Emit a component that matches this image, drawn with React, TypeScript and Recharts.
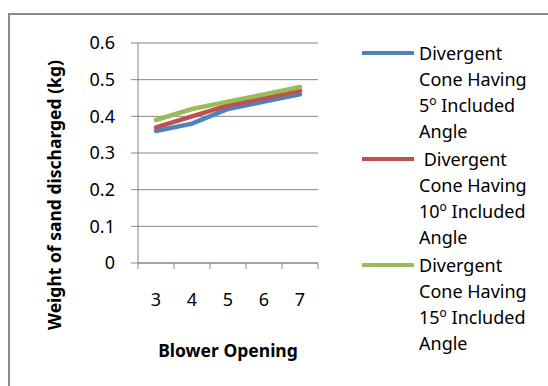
import React from 'react';
import { LineChart, Line, XAxis, YAxis, CartesianGrid, Legend } from 'recharts';

// blower opening setting on the x axis
const openings = [3, 4, 5, 6, 7];
// weight of sand discharged (kg) for each cone
const cone5 = [0.36, 0.38, 0.42, 0.44, 0.46];
const cone10 = [0.37, 0.4, 0.43, 0.45, 0.47];
const cone15 = [0.39, 0.42, 0.44, 0.46, 0.48];
const yTicks = [0, 0.1, 0.2, 0.3, 0.4, 0.5, 0.6];
// tick marks sit between categories, Excel style
const bandEdges = [2.5, 3.5, 4.5, 5.5, 6.5, 7.5];

const FONT = '"Noto Sans", sans-serif';
const AXIS = '#868686';

const series = [
  { key: 'cone5', angle: 5, color: '#4F81BD', lead: '' },
  { key: 'cone10', angle: 10, color: '#C0504D', lead: '\u00a0' },
  { key: 'cone15', angle: 15, color: '#9BBB59', lead: '' },
];

const data = openings.map((opening, i) => ({
  opening,
  cone5: cone5[i],
  cone10: cone10[i],
  cone15: cone15[i],
}));

function ConeLegend() {
  return (
    <div style={{ fontFamily: FONT, fontSize: 18, lineHeight: '26px', color: '#000' }}>
      {series.map((s) => (
        <div key={s.key} style={{ display: 'flex', alignItems: 'flex-start', marginBottom: 2 }}>
          <div style={{ width: 52, height: 4, background: s.color, marginTop: 11, marginRight: 5, flex: 'none' }} />
          <div style={{ width: 122 }}>
            {s.lead}Divergent Cone Having {s.angle}
            <span style={{ fontSize: 12, lineHeight: 1, position: 'relative', top: -7 }}>o</span> Included Angle
          </div>
        </div>
      ))}
    </div>
  );
}

const yTitle = () => (
  <text
    x={54}
    y={195}
    transform="rotate(-90 54 195)"
    textAnchor="middle"
    dominantBaseline="central"
    fontFamily={FONT}
    fontSize={17.5}
    fontWeight="bold"
    fill="#000"
  >
    Weight of sand discharged (kg)
  </text>
);

const xTitle = () => (
  <text x={228} y={350} textAnchor="middle" dominantBaseline="central" fontFamily={FONT} fontSize={17.5} fontWeight="bold" fill="#000">
    Blower Opening
  </text>
);

export default function App() {
  return (
    <div style={{ position: 'absolute', left: 0, top: 0, width: 548, height: 386, overflow: 'hidden', background: '#fff' }}>
      <div style={{ position: 'absolute', left: 8, top: 13, width: 600, height: 500, border: '2px solid #898989' }} />
      <LineChart width={548} height={386} data={data} margin={{ top: 43, right: 230, left: 0, bottom: 22 }} style={{ fontFamily: FONT }}>
        <CartesianGrid vertical={false} stroke={AXIS} />
        {/* axis line with tick marks between the categories */}
        <XAxis
          dataKey="opening"
          type="number"
          domain={[2.5, 7.5]}
          ticks={bandEdges}
          tickFormatter={() => ''}
          tickSize={6}
          height={1}
          stroke={AXIS}
        />
        {/* category labels and axis title */}
        <XAxis
          xAxisId="labels"
          dataKey="opening"
          type="number"
          domain={[2.5, 7.5]}
          ticks={openings}
          axisLine={false}
          tickLine={false}
          tickSize={0}
          tickMargin={29}
          height={100}
          tick={{ fill: '#000', fontSize: 18 }}
          label={xTitle}
        />
        <YAxis
          domain={[0, 0.6]}
          ticks={yTicks}
          width={138}
          tickSize={7}
          tickMargin={16}
          stroke={AXIS}
          tick={{ fill: '#000', fontSize: 18 }}
          tickFormatter={(v: number) => (v === 0 ? '0' : v.toFixed(1))}
          label={yTitle}
        />
        <Legend
          layout="vertical"
          align="center"
          verticalAlign="middle"
          content={<ConeLegend />}
          wrapperStyle={{ left: 362, top: 40, width: 186 }}
        />
        {series.map((s) => (
          <Line
            key={s.key}
            dataKey={s.key}
            stroke={s.color}
            strokeWidth={4.5}
            strokeLinecap="round"
            dot={false}
            isAnimationActive={false}
          />
        ))}
      </LineChart>
    </div>
  );
}
